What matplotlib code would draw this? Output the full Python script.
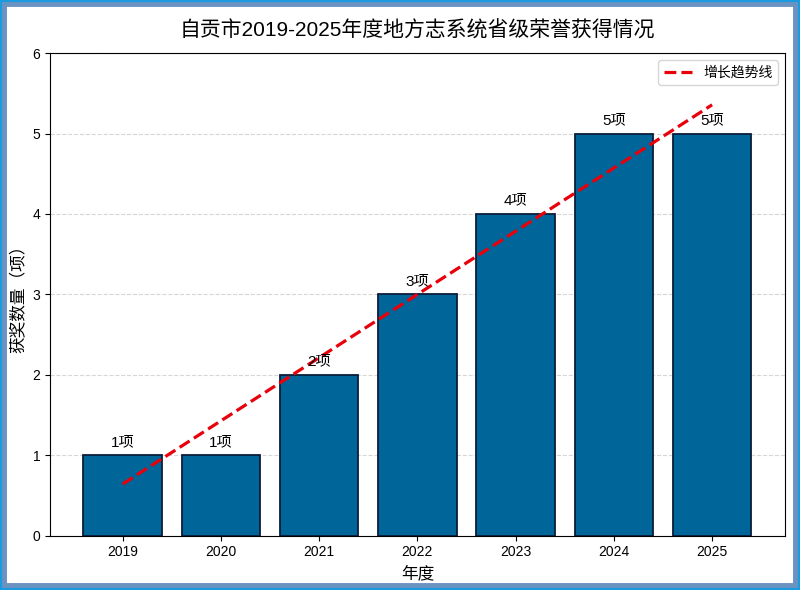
import numpy as np
import matplotlib
matplotlib.use('Agg')
import matplotlib.pyplot as plt
from matplotlib.patches import Rectangle

plt.rcParams['font.family'] = ['Liberation Sans', 'Noto Sans CJK SC', 'DejaVu Sans']
plt.rcParams['axes.unicode_minus'] = False

years = ['2019', '2020', '2021', '2022', '2023', '2024', '2025']
honors = [1, 1, 2, 3, 4, 5, 5]

fig, ax = plt.subplots(figsize=(8, 5.9), dpi=100)
fig.subplots_adjust(left=0.0625, right=0.981, top=0.910, bottom=0.092)

x = np.arange(len(years))
bars = ax.bar(x, honors, width=0.8, color='#006699', edgecolor='#0b1d3a',
              linewidth=1.3, zorder=2)

for xi, v in zip(x, honors):
    ax.text(xi, v + 0.08, f'{v}项', ha='center', va='bottom', fontsize=11, zorder=4)

# linear trend line fitted to the values
k, b = np.polyfit(x, honors, 1)
ax.plot(x, k * x + b, '--', color='#e8000b', linewidth=2.3, label='增长趋势线', zorder=3)

ax.set_xticks(x)
ax.set_xticklabels(years, fontsize=10)
ax.set_ylim(0, 6)
ax.tick_params(axis='y', labelsize=10)
ax.yaxis.grid(True, linestyle='--', color='#cccccc', alpha=0.8, zorder=0)
ax.set_axisbelow(True)

ax.set_xlabel('年度', fontsize=12)
ax.set_ylabel('获奖数量（项）', fontsize=12)
ax.set_title('自贡市2019-2025年度地方志系统省级荣誉获得情况', fontsize=15, pad=12)
ax.legend(loc='upper right', fontsize=10)

# figure frame
fig.add_artist(Rectangle((0, 0), 1, 1, transform=fig.transFigure, fill=False,
                         edgecolor='#6b93c2', linewidth=10))
fig.add_artist(Rectangle((0, 0), 1, 1, transform=fig.transFigure, fill=False,
                         edgecolor='#1a9be0', linewidth=3))

fig.savefig('out.png', dpi=100)
